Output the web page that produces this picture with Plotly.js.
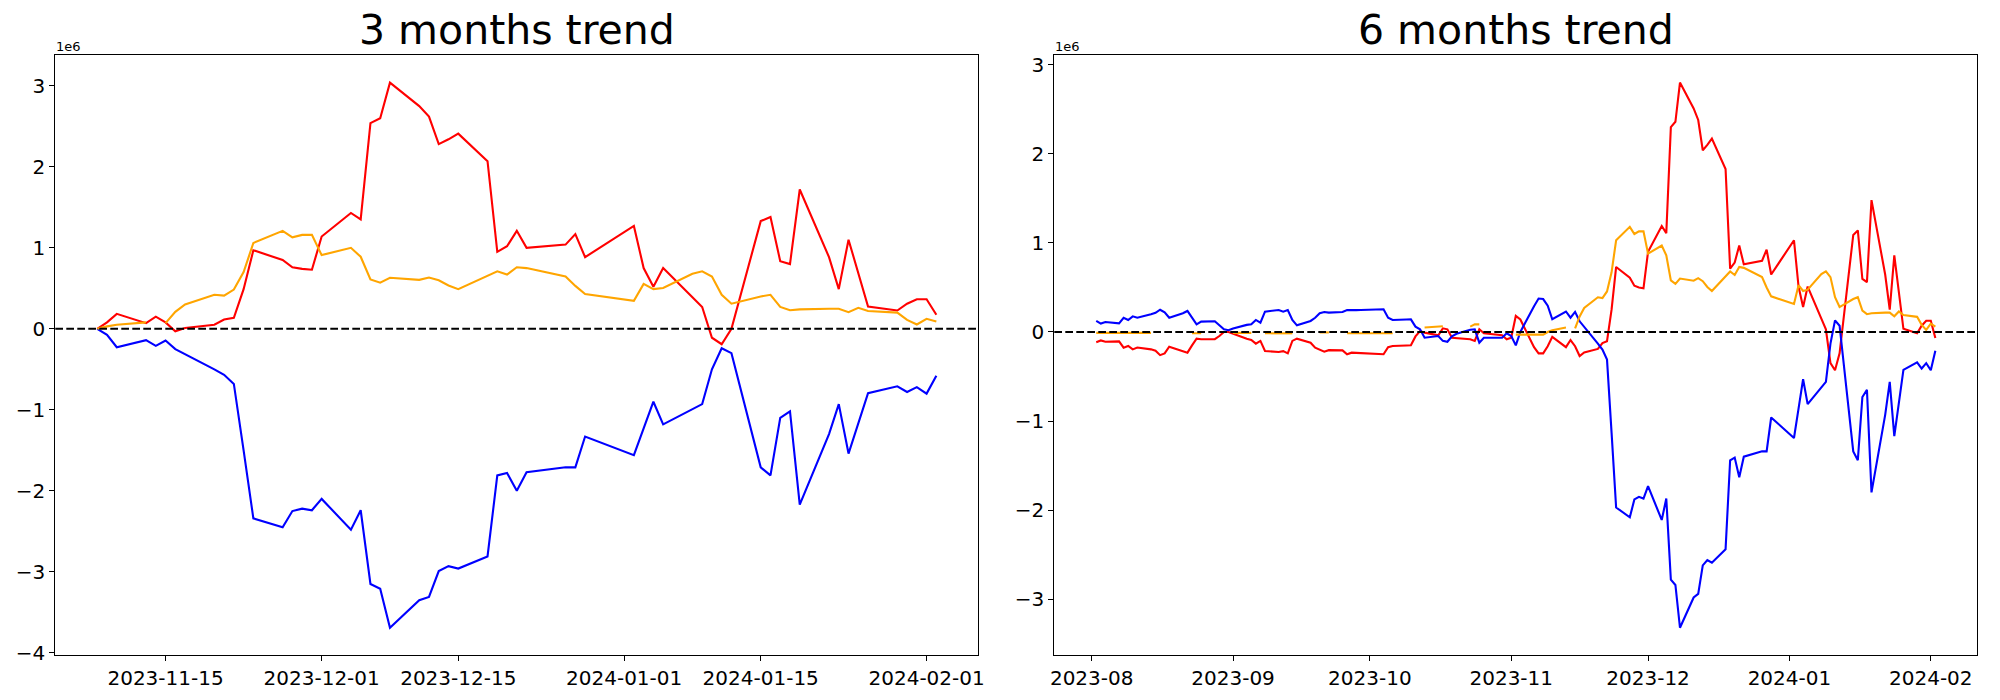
<!DOCTYPE html>
<html>
<head>
<meta charset="utf-8">
<script src="https://cdn.plot.ly/plotly-3.0.1.min.js"></script>
<style>
  html, body { margin: 0; padding: 0; background: #ffffff; }
  #chart { width: 2000px; height: 700px; }
</style>
</head>
<body>
<div id="chart"></div>
<script>
// ---------- 3 months trend (values in units of 1e6) ----------
const dates3m = ['2023-11-08','2023-11-09','2023-11-10','2023-11-13','2023-11-14','2023-11-15','2023-11-16','2023-11-17','2023-11-20','2023-11-21','2023-11-22','2023-11-23','2023-11-24','2023-11-27','2023-11-28','2023-11-29','2023-11-30',
  '2023-12-01','2023-12-04','2023-12-05','2023-12-06','2023-12-07','2023-12-08','2023-12-11','2023-12-12','2023-12-13','2023-12-14','2023-12-15','2023-12-18','2023-12-19','2023-12-20','2023-12-21','2023-12-22','2023-12-26','2023-12-27','2023-12-28',
  '2024-01-02','2024-01-03','2024-01-04','2024-01-05','2024-01-08','2024-01-09','2024-01-10','2024-01-11','2024-01-12','2024-01-15','2024-01-16','2024-01-17','2024-01-18','2024-01-19','2024-01-22','2024-01-23','2024-01-24','2024-01-25','2024-01-26','2024-01-29','2024-01-30','2024-01-31',
  '2024-02-01','2024-02-02'];
const red3m = [0, 0.08, 0.185, 0.07, 0.15, 0.08, -0.03, 0.01, 0.05, 0.115, 0.136, 0.49, 0.97, 0.85, 0.76, 0.74, 0.73,
  1.14, 1.43, 1.35, 2.54, 2.60, 3.04, 2.75, 2.62, 2.28, 2.34, 2.41, 2.07, 0.95, 1.02, 1.21, 1.00, 1.04, 1.17, 0.885,
  1.27, 0.75, 0.52, 0.75, 0.39, 0.27, -0.11, -0.19, 0.0, 1.33, 1.38, 0.835, 0.80, 1.72, 0.885, 0.49, 1.10, 0.69, 0.276, 0.226, 0.31, 0.366,
  0.366, 0.173];
const blue3m = [0, -0.074, -0.227, -0.14, -0.21, -0.144, -0.25, -0.31, -0.50, -0.568, -0.68, -1.5, -2.34, -2.45, -2.25, -2.22, -2.24,
  -2.10, -2.48, -2.24, -3.15, -3.21, -3.69, -3.35, -3.31, -2.99, -2.93, -2.96, -2.81, -1.81, -1.78, -2.00, -1.77, -1.71, -1.71, -1.33,
  -1.56, -1.23, -0.90, -1.18, -0.99, -0.93, -0.50, -0.24, -0.30, -1.71, -1.81, -1.10, -1.02, -2.17, -1.30, -0.93, -1.54, -1.17, -0.795, -0.71, -0.78, -0.72,
  -0.80, -0.58];
const orange3m = [0, 0.03, 0.05, 0.08, null, 0.07, 0.21, 0.30, 0.42, 0.41, 0.485, 0.70, 1.06, 1.21, 1.13, 1.16, 1.16,
  0.91, 1.00, 0.89, 0.61, 0.57, 0.63, 0.605, 0.634, 0.60, 0.535, 0.49, 0.654, 0.71, 0.67, 0.76, 0.75, 0.646, 0.53, 0.43,
  0.345, 0.555, 0.49, 0.505, 0.68, 0.71, 0.646, 0.42, 0.31, 0.40, 0.42, 0.27, 0.23, 0.24, 0.247, 0.247, 0.206, 0.26, 0.22, 0.20, 0.11, 0.053,
  0.123, 0.09];
const ticks3m = ['2023-11-15','2023-12-01','2023-12-15','2024-01-01','2024-01-15','2024-02-01'];

// ---------- 6 months trend (values in units of 1e6) ----------
const datesAugNov = ['2023-08-02','2023-08-03','2023-08-04','2023-08-07','2023-08-08','2023-08-09','2023-08-10','2023-08-11','2023-08-14','2023-08-15','2023-08-16','2023-08-17','2023-08-18','2023-08-21','2023-08-22','2023-08-23','2023-08-24','2023-08-25','2023-08-28','2023-08-29','2023-08-30','2023-08-31',
  '2023-09-01','2023-09-04','2023-09-05','2023-09-06','2023-09-07','2023-09-08','2023-09-11','2023-09-12','2023-09-13','2023-09-14','2023-09-15','2023-09-18','2023-09-19','2023-09-20','2023-09-21','2023-09-22','2023-09-25','2023-09-26','2023-09-27','2023-09-28','2023-09-29',
  '2023-10-02','2023-10-03','2023-10-04','2023-10-05','2023-10-06','2023-10-09','2023-10-10','2023-10-11','2023-10-12','2023-10-13','2023-10-16','2023-10-17','2023-10-18','2023-10-19','2023-10-20','2023-10-23','2023-10-24','2023-10-25','2023-10-26','2023-10-27','2023-10-30','2023-10-31',
  '2023-11-01','2023-11-02','2023-11-03','2023-11-06','2023-11-07'];
const dates6m = datesAugNov.concat(dates3m);
const red6m = [-0.115, -0.095, -0.11, -0.105, -0.176, -0.157, -0.195, -0.175, -0.195, -0.21, -0.26, -0.24, -0.165, -0.215, -0.232, -0.15, -0.075, -0.082, -0.08, -0.045, 0.0, 0.0,
  -0.02, -0.075, -0.09, -0.131, -0.10, -0.213, -0.225, -0.215, -0.24, -0.10, -0.075, -0.12, -0.176, -0.2, -0.221, -0.204, -0.206, -0.25, -0.232, -0.235, -0.237,
  -0.243, -0.246, -0.25, -0.17, -0.157, -0.152, -0.15, -0.05, 0.01, -0.007, -0.037, 0.041, 0.03, -0.064, -0.07, -0.082, -0.10, 0.03, -0.015, -0.02, -0.037, -0.082,
  -0.064, 0.18, 0.14, -0.17, -0.24,
  -0.24, -0.16, -0.055, -0.17, -0.09, -0.16, -0.27, -0.23, -0.19, -0.125, -0.104, 0.25, 0.73, 0.61, 0.52, 0.50, 0.49,
  0.90, 1.19, 1.11, 2.30, 2.36, 2.80, 2.51, 2.38, 2.04, 2.10, 2.17, 1.83, 0.71, 0.78, 0.97, 0.76, 0.80, 0.925, 0.645,
  1.03, 0.51, 0.28, 0.51, 0.15, 0.03, -0.35, -0.43, -0.24, 1.09, 1.14, 0.595, 0.56, 1.48, 0.645, 0.25, 0.86, 0.45, 0.036, -0.014, 0.07, 0.126,
  0.126, -0.067];
const blue6m = [0.124, 0.094, 0.112, 0.097, 0.16, 0.135, 0.176, 0.16, 0.20, 0.215, 0.25, 0.22, 0.16, 0.21, 0.236, 0.16, 0.086, 0.116, 0.12, 0.075, 0.03, 0.02,
  0.04, 0.08, 0.086, 0.135, 0.105, 0.228, 0.247, 0.228, 0.247, 0.135, 0.075, 0.124, 0.16, 0.21, 0.225, 0.217, 0.225, 0.247, 0.243, 0.245, 0.247,
  0.25, 0.252, 0.255, 0.16, 0.135, 0.14, 0.142, 0.06, 0.03, -0.064, -0.045, -0.10, -0.11, -0.05, -0.02, 0.025, 0.03, -0.12, -0.064, -0.064, -0.064, -0.015,
  -0.045, -0.15, 0.0, 0.29, 0.375,
  0.37, 0.296, 0.143, 0.23, 0.16, 0.226, 0.12, 0.06, -0.13, -0.198, -0.31, -1.13, -1.97, -2.08, -1.88, -1.85, -1.87,
  -1.73, -2.11, -1.87, -2.78, -2.84, -3.32, -2.98, -2.94, -2.62, -2.56, -2.59, -2.44, -1.44, -1.41, -1.63, -1.40, -1.34, -1.34, -0.96,
  -1.19, -0.86, -0.53, -0.81, -0.62, -0.56, -0.13, 0.13, 0.07, -1.34, -1.44, -0.73, -0.65, -1.80, -0.93, -0.56, -1.17, -0.80, -0.425, -0.34, -0.41, -0.35,
  -0.43, -0.21];
const orange6m = [-0.01, -0.01, -0.01, -0.01, -0.01, -0.01, -0.01, -0.01, -0.01, null, null, null, null, null, null, -0.015, -0.015, -0.015, null, null, null, null,
  -0.01, -0.01, -0.01, null, null, -0.015, -0.015, -0.015, -0.015, -0.015, null, null, null, -0.005, -0.005, -0.005, null, -0.015, -0.015, -0.015, -0.015,
  -0.015, -0.015, -0.015, -0.015, -0.015, null, null, null, null, 0.05, 0.06, 0.065, null, null, null, 0.06, 0.085, 0.085, null, null, null, null,
  null, -0.03, -0.03, -0.03, -0.03,
  -0.03, 0.0, 0.02, 0.05, null, 0.04, 0.175, 0.27, 0.39, 0.38, 0.455, 0.67, 1.03, 1.18, 1.10, 1.13, 1.13,
  0.88, 0.97, 0.86, 0.58, 0.54, 0.60, 0.575, 0.604, 0.57, 0.505, 0.46, 0.624, 0.68, 0.64, 0.73, 0.72, 0.616, 0.50, 0.40,
  0.315, 0.525, 0.46, 0.475, 0.65, 0.68, 0.616, 0.39, 0.28, 0.37, 0.39, 0.24, 0.20, 0.21, 0.217, 0.217, 0.176, 0.23, 0.19, 0.17, 0.08, 0.023,
  0.093, 0.06];

const titles = ['3 months trend', '6 months trend'];
const offsetLabel = '1e6';

// ---------- styling ----------
const FONT = 'DejaVu Sans, Liberation Sans, sans-serif';
const COLORS = { red: '#ff0000', blue: '#0000ff', orange: '#ffa500' };
const LW = 2.1;

function line(x, y, color, xa, ya) {
  return { type: 'scatter', mode: 'lines', x: x, y: y, xaxis: xa, yaxis: ya,
           line: { color: color, width: LW }, connectgaps: false, hoverinfo: 'skip', showlegend: false };
}

const traces = [
  line(dates3m, red3m, COLORS.red, 'x', 'y'),
  line(dates3m, blue3m, COLORS.blue, 'x', 'y'),
  line(dates3m, orange3m, COLORS.orange, 'x', 'y'),
  line(dates6m, red6m, COLORS.red, 'x2', 'y2'),
  line(dates6m, blue6m, COLORS.blue, 'x2', 'y2'),
  line(dates6m, orange6m, COLORS.orange, 'x2', 'y2')
];

const axisCommon = {
  showline: true, mirror: true, linecolor: '#000', linewidth: 1,
  ticks: 'outside', ticklen: 5, tickwidth: 1, tickcolor: '#000',
  showgrid: false, zeroline: false,
  tickfont: { family: FONT, size: 20, color: '#000' }
};

const W = 2000, H = 700;
const yDom = [1 - 655 / H, 1 - 55.3 / H];

const layout = {
  width: W, height: H,
  margin: { l: 0, r: 0, t: 0, b: 0 },
  paper_bgcolor: '#fff', plot_bgcolor: '#fff',
  font: { family: FONT, color: '#000' },
  showlegend: false,
  xaxis: Object.assign({}, axisCommon, {
    type: 'date', domain: [55.3 / W, 978.3 / W], anchor: 'y',
    range: ['2023-11-03 16:48', '2024-02-06 07:12'],
    tickmode: 'array', tickvals: ticks3m, ticktext: ticks3m
  }),
  yaxis: Object.assign({}, axisCommon, {
    domain: yDom, anchor: 'x', range: [-4.027, 3.377], tick0: 0, dtick: 1
  }),
  xaxis2: Object.assign({}, axisCommon, {
    type: 'date', domain: [1054.3 / W, 1977.3 / W], anchor: 'y2',
    range: ['2023-07-23 19:12', '2024-02-11 04:48'],
    tick0: '2023-08-01', dtick: 'M1', tickformat: '%Y-%m'
  }),
  yaxis2: Object.assign({}, axisCommon, {
    domain: yDom, anchor: 'x2', range: [-3.626, 3.106], tick0: 0, dtick: 1
  }),
  shapes: [
    { type: 'line', xref: 'x domain', yref: 'y', x0: 0, x1: 1, y0: 0, y1: 0,
      line: { color: '#000', width: 2, dash: '7.7px,3.3px' }, layer: 'above' },
    { type: 'line', xref: 'x2 domain', yref: 'y2', x0: 0, x1: 1, y0: 0, y1: 0,
      line: { color: '#000', width: 2, dash: '7.7px,3.3px' }, layer: 'above' }
  ],
  annotations: [
    { text: titles[0], xref: 'x domain', yref: 'paper', x: 0.5, y: 1 - 56 / H,
      xanchor: 'center', yanchor: 'bottom', showarrow: false,
      font: { family: FONT, size: 41, color: '#000' } },
    { text: titles[1], xref: 'x2 domain', yref: 'paper', x: 0.5, y: 1 - 56 / H,
      xanchor: 'center', yanchor: 'bottom', showarrow: false,
      font: { family: FONT, size: 41, color: '#000' } },
    { text: offsetLabel, xref: 'x domain', yref: 'y domain', x: 0, y: 1,
      xanchor: 'left', yanchor: 'bottom', showarrow: false, borderpad: 0,
      font: { family: FONT, size: 13, color: '#000' } },
    { text: offsetLabel, xref: 'x2 domain', yref: 'y2 domain', x: 0, y: 1,
      xanchor: 'left', yanchor: 'bottom', showarrow: false, borderpad: 0,
      font: { family: FONT, size: 13, color: '#000' } }
  ]
};

Plotly.newPlot('chart', traces, layout, { staticPlot: true, displayModeBar: false });
</script>
</body>
</html>
